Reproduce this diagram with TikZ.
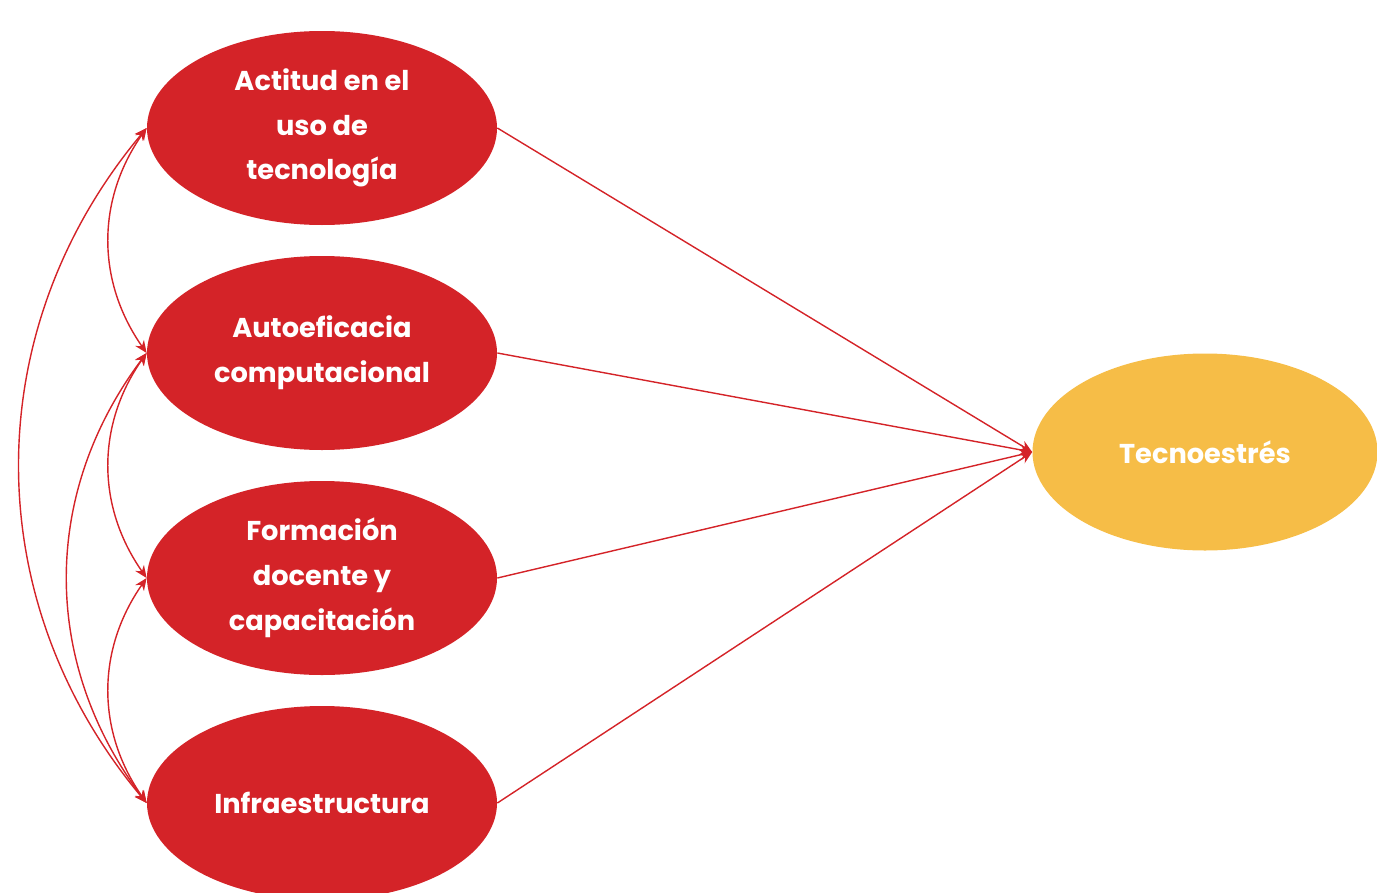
\documentclass[tikz,border=0pt]{standalone}
\usepackage{fontspec}
\setmainfont{Poppins}
\usetikzlibrary{shapes.geometric,arrows.meta}
\definecolor{factorred}{HTML}{D42328}
\definecolor{stressyellow}{HTML}{F6BD47}
\tikzstyle{factor}=[ellipse,fill=factorred,text=white,inner sep=0pt,minimum width=7cm,minimum height=3.88cm,align=center,font=\fontsize{15.5}{25.5}\selectfont\bfseries]
\tikzstyle{outcome}=[factor,fill=stressyellow,minimum width=6.9cm,minimum height=3.94cm]
\tikzstyle{path}=[draw=factorred,line width=0.8pt,-{Stealth[length=7pt,width=6pt]}]
\tikzstyle{corr}=[draw=factorred,line width=0.8pt,{Stealth[length=7pt,width=6pt]}-{Stealth[length=7pt,width=6pt]}]

\begin{document}
\begin{tikzpicture}
\useasboundingbox (0,0) rectangle (27.54,-17.84);
% predictors, 4.5cm apart
\node[factor] (actitud) at (6.44,-2.56) {Actitud en el\\uso de\\tecnología};
\node[factor] (autoef) at (6.44,-7.06) {Autoeficacia\\computacional};
\node[factor] (formacion) at (6.44,-11.56) {Formación\\docente y\\capacitación};
\node[factor] (infra) at (6.44,-16.06) {Infraestructura};
\node[outcome] (tecno) at (24.1,-9.04) {Tecnoestrés};

\foreach \f in {actitud,autoef,formacion,infra}
  \draw[path] (\f.east) -- (tecno.west);

% correlations on the left
\draw[corr] (actitud.west) to[bend right=35] (autoef.west);
\draw[corr] (autoef.west) to[bend right=35] (formacion.west);
\draw[corr] (formacion.west) to[bend right=35] (infra.west);
\draw[corr] (autoef.west) to[bend right=37] (infra.west);
\draw[corr] (actitud.west) to[bend right=40] (infra.west);
\end{tikzpicture}
\end{document}
